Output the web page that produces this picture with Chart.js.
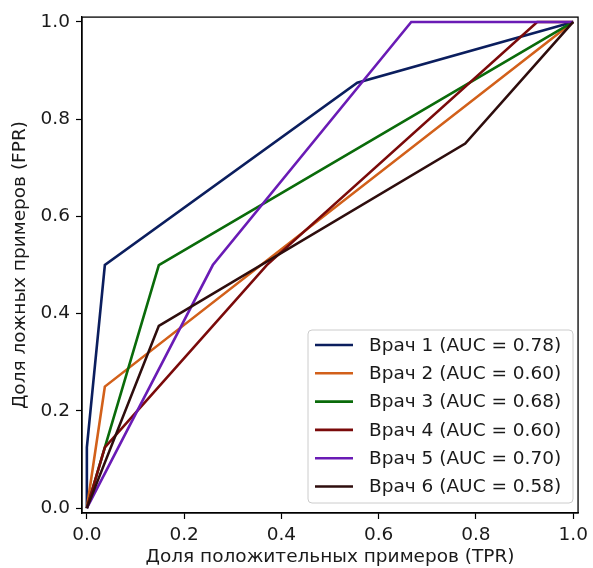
<!DOCTYPE html>
<html>
<head>
<meta charset="utf-8">
<script src="https://cdn.jsdelivr.net/npm/chart.js@4.4.0/dist/chart.umd.min.js"></script>
<style>
  body { margin: 0; background: #fff; }
  #wrap { width: 593px; height: 568px; }
</style>
</head>
<body>
<div id="wrap"><canvas id="chart"></canvas></div>
<script>
// ROC points (x = TPR axis, y = FPR axis as labelled)
var doc1X = [0, 0, 0.037, 0.556, 1];
var doc1Y = [0, 0.125, 0.5, 0.875, 1];
var doc2X = [0, 0.037, 1];
var doc2Y = [0, 0.25, 1];
var doc3X = [0, 0.037, 0.148, 1];
var doc3Y = [0, 0.125, 0.5, 1];
var doc4X = [0, 0.037, 0.370, 0.926, 1];
var doc4Y = [0, 0.125, 0.5, 1, 1];
var doc5X = [0, 0.259, 0.667, 1];
var doc5Y = [0, 0.5, 1, 1];
var doc6X = [0, 0.148, 0.778, 1];
var doc6Y = [0, 0.375, 0.75, 1];

var labels = ['Врач 1 (AUC = 0.78)', 'Врач 2 (AUC = 0.60)', 'Врач 3 (AUC = 0.68)',
              'Врач 4 (AUC = 0.60)', 'Врач 5 (AUC = 0.70)', 'Врач 6 (AUC = 0.58)'];
var colors = ['#0b1e5e', '#d2601a', '#0a6b0a', '#7a0a0a', '#6a1bb5', '#2e0d0d'];
var tickValues = [0, 0.2, 0.4, 0.6, 0.8, 1.0];

var xs = [doc1X, doc2X, doc3X, doc4X, doc5X, doc6X];
var ys = [doc1Y, doc2Y, doc3Y, doc4Y, doc5Y, doc6Y];

var FONT = 'DejaVu Sans';
var FSIZE = 18.5;

function pts(x, y) {
  return x.map(function(v, k) { return {x: v, y: y[k]}; });
}

var datasets = [];
for (let i = 0; i < 6; i++) {
  datasets.push({
    label: labels[i],
    data: pts(xs[i], ys[i]),
    borderColor: colors[i],
    backgroundColor: colors[i],
    borderWidth: 2.6,
    pointRadius: 0,
    tension: 0,
    fill: false,
    order: 5 - i
  });
}

// frame + legend drawn inside the plot like matplotlib
var boxPlugin = {
  id: 'boxPlugin',
  afterDatasetsDraw: function(chart) {
    var c = chart.ctx, a = chart.chartArea;
    c.save();
    c.strokeStyle = '#000';
    c.lineWidth = 1.3;
    c.strokeRect(a.left, a.top, a.right - a.left, a.bottom - a.top);

    // legend box
    var bx = 308, by = 330, bw = 265, bh = 173, r = 4;
    c.beginPath();
    c.moveTo(bx + r, by);
    c.arcTo(bx + bw, by, bx + bw, by + bh, r);
    c.arcTo(bx + bw, by + bh, bx, by + bh, r);
    c.arcTo(bx, by + bh, bx, by, r);
    c.arcTo(bx, by, bx + bw, by, r);
    c.closePath();
    c.fillStyle = 'rgba(255,255,255,0.8)';
    c.fill();
    c.strokeStyle = '#cccccc';
    c.lineWidth = 1;
    c.stroke();

    c.font = FSIZE + 'px "' + FONT + '"';
    c.textBaseline = 'middle';
    c.fillStyle = '#1a1a1a';
    chart.data.datasets.forEach(function(ds, i) {
      var yy = 345 + i * 28.3;
      c.strokeStyle = ds.borderColor;
      c.lineWidth = 2.6;
      c.beginPath();
      c.moveTo(315, yy);
      c.lineTo(353, yy);
      c.stroke();
      c.fillText(ds.label, 369, yy + 1);
    });
    c.restore();
  }
};

var ctx = document.getElementById('chart').getContext('2d');
var myChart = new Chart(ctx, {
  type: 'line',
  data: { datasets: datasets },
  plugins: [boxPlugin],
  options: {
    responsive: true,
    maintainAspectRatio: false,
    animation: false,
    layout: { padding: { left: 0, right: 10, top: 15, bottom: 0 } },
    plugins: {
      legend: { display: false },
      tooltip: { enabled: false }
    },
    scales: {
      x: {
        type: 'linear',
        min: -0.01,
        max: 1.01,
        afterBuildTicks: function(s) { s.ticks = tickValues.map(function(v) { return {value: v}; }); },
        afterFit: function(s) { s.height = 55; },
        grid: { drawOnChartArea: false, drawTicks: true, tickLength: 6, tickColor: '#000', tickWidth: 1.2 },
        border: { display: true, color: '#000', width: 1.3 },
        ticks: {
          padding: 5,
          maxRotation: 0,
          color: '#1a1a1a',
          font: { family: FONT, size: FSIZE },
          callback: function(v) { return v.toFixed(1); }
        },
        title: {
          display: true,
          text: 'Доля положительных примеров (TPR)',
          color: '#1a1a1a',
          font: { family: FONT, size: FSIZE },
          padding: { top: 0, bottom: 0 }
        }
      },
      y: {
        type: 'linear',
        min: -0.01,
        max: 1.01,
        afterBuildTicks: function(s) { s.ticks = tickValues.map(function(v) { return {value: v}; }); },
        afterFit: function(s) { s.width = 82; },
        grid: { drawOnChartArea: false, drawTicks: true, tickLength: 6, tickColor: '#000', tickWidth: 1.2 },
        border: { display: true, color: '#000', width: 1.3 },
        ticks: {
          padding: 6,
          color: '#1a1a1a',
          font: { family: FONT, size: FSIZE },
          callback: function(v) { return v.toFixed(1); }
        },
        title: {
          display: true,
          text: 'Доля ложных примеров (FPR)',
          color: '#1a1a1a',
          font: { family: FONT, size: FSIZE },
          padding: { top: 9, bottom: 0 }
        }
      }
    }
  }
});
</script>
</body>
</html>
